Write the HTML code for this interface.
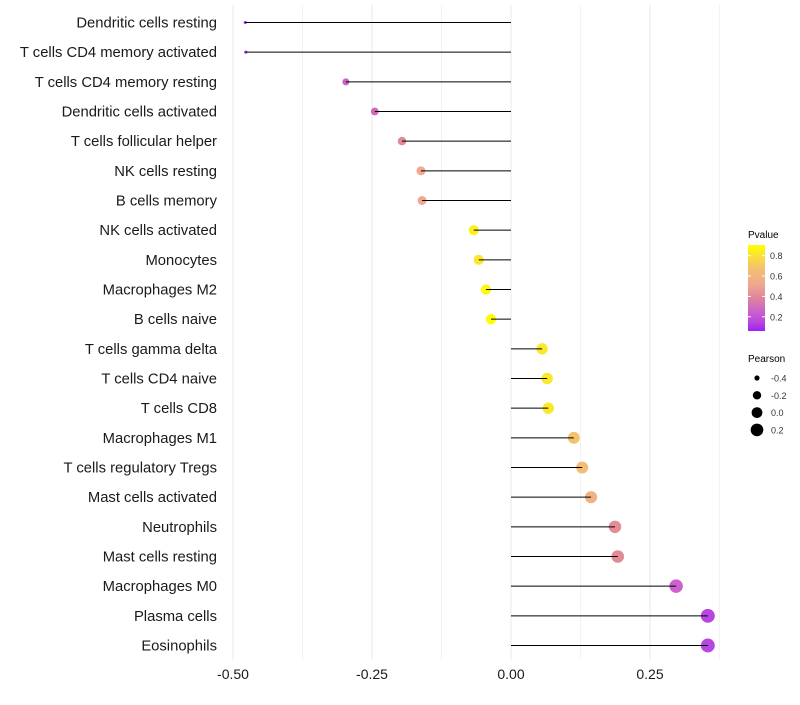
<!DOCTYPE html>
<html><head><meta charset="utf-8"><style>
body{margin:0;background:#fff;font-family:"Liberation Sans",sans-serif}
</style></head><body>
<svg id="chart" width="800" height="700" xmlns="http://www.w3.org/2000/svg" font-family="Liberation Sans, sans-serif">
<defs><linearGradient id="pg" x1="0" y1="1" x2="0" y2="0">
<stop offset="0" stop-color="#a020f0"/><stop offset="0.11" stop-color="#b848e0"/><stop offset="0.225" stop-color="#cc60cc"/><stop offset="0.4" stop-color="#e08898"/><stop offset="0.54" stop-color="#eea890"/><stop offset="0.73" stop-color="#f4c070"/><stop offset="1" stop-color="#ffff00"/></linearGradient></defs>
<g id="grid"></g>
<g id="points"></g>
<g id="marks"></g>
<g id="ylabels"></g>
<g id="xlabels"></g>
<g>
<text x="748" y="238" font-size="10" fill="#000">Pvalue</text>
<rect x="748" y="245" width="17" height="86" fill="url(#pg)"/>
<g id="cbticks"></g>
</g>
<g>
<text x="748" y="362" font-size="10" fill="#000">Pearson</text>
<g id="sizeleg"></g>
</g>
</svg>
<script>
const categories=["Dendritic cells resting","T cells CD4 memory activated","T cells CD4 memory resting","Dendritic cells activated","T cells follicular helper","NK cells resting","B cells memory","NK cells activated","Monocytes","Macrophages M2","B cells naive","T cells gamma delta","T cells CD4 naive","T cells CD8","Macrophages M1","T cells regulatory  Tregs ","Mast cells activated","Neutrophils","Mast cells resting","Macrophages M0","Plasma cells","Eosinophils"];
const pearson=[-0.478,-0.477,-0.297,-0.245,-0.196,-0.162,-0.160,-0.067,-0.058,-0.045,-0.036,0.056,0.065,0.067,0.113,0.128,0.144,0.187,0.192,0.297,0.354,0.354];
const pvalues=[0.06,0.06,0.25,0.28,0.4,0.52,0.52,0.85,0.82,0.88,0.9,0.82,0.82,0.82,0.68,0.66,0.58,0.42,0.41,0.25,0.15,0.15];
const xTicks=[-0.5,-0.25,0,0.25];
const xTickLabels=["-0.50","-0.25","0.00","0.25"];
const cbTicks=[0.2,0.4,0.6,0.8];
const sizeTicks=[-0.4,-0.2,0.0,0.2];
const sizeTickLabels=["-0.4","-0.2","0.0","0.2"];
const NS="http://www.w3.org/2000/svg";
const x=v=>511+v*556;
const y=i=>22.5+i*(623/21);
const pMin=0.06,pMax=0.905;
const cbY=p=>331-(p-pMin)/(pMax-pMin)*86;
const r=v=>Math.sqrt(Math.max(1,28.9+55.7*v));
const stops=[[0,[160,32,240]],[0.11,[184,72,224]],[0.225,[204,96,204]],[0.4,[224,136,152]],[0.54,[238,168,144]],[0.73,[244,192,112]],[1,[255,255,0]]];
function col(p){let t=Math.min(1,Math.max(0,(p-pMin)/(pMax-pMin)));for(let k=1;k<stops.length;k++){if(t<=stops[k][0]){const a=stops[k-1],b=stops[k],f=(t-a[0])/(b[0]-a[0]);return "rgb("+a[1].map((c,j)=>Math.round(c+(b[1][j]-c)*f)).join(",")+")";}}return "rgb(255,255,0)";}
function mk(t,at,parent){const e=document.createElementNS(NS,t);for(const k in at)e.setAttribute(k,at[k]);parent.appendChild(e);return e;}
const grid=document.getElementById('grid');
[-0.5,-0.375,-0.25,-0.125,0,0.125,0.25,0.375].forEach(v=>{
 const l=mk('line',{x1:x(v),x2:x(v),y1:5,y2:660,stroke:'#ebebeb','stroke-width':Number.isInteger(v*4)?1.1:0.6},grid);
 
 
});
const marks=document.getElementById('marks'),pts=document.getElementById('points'),yl=document.getElementById('ylabels');
categories.forEach((c,i)=>{
 const d=mk('circle',{cx:x(pearson[i]),cy:y(i),r:r(pearson[i]),fill:col(pvalues[i])},pts);
 
 
 const s=mk('line',{x1:x(0),x2:x(pearson[i]),y1:y(i),y2:y(i),stroke:'#000','stroke-width':1},marks);
 
 
 const t=mk('text',{x:217,y:y(i)+5,'text-anchor':'end','font-size':14.8,fill:'#1a1a1a'},yl);t.textContent=c;
 
 
});
const xl=document.getElementById('xlabels');
xTicks.forEach((v,i)=>{const t=mk('text',{x:x(v),y:679,'text-anchor':'middle','font-size':14,fill:'#1a1a1a'},xl);t.textContent=xTickLabels[i];
 
 });
const cb=document.getElementById('cbticks');
cbTicks.forEach(p=>{mk('line',{x1:748,x2:751,y1:cbY(p),y2:cbY(p),stroke:'#fff'},cb);mk('line',{x1:762,x2:765,y1:cbY(p),y2:cbY(p),stroke:'#fff'},cb);
 const t=mk('text',{x:770,y:cbY(p)+3.5,'font-size':9,fill:'#333'},cb);t.textContent=p.toFixed(1);
 
 });
const sl=document.getElementById('sizeleg');
sizeTicks.forEach((v,i)=>{const cy=378+i*17.3;const c=mk('circle',{cx:757,cy:cy,r:r(v),fill:'#000'},sl);
 
 
 const t=mk('text',{x:771,y:cy+3.5,'font-size':9,fill:'#333'},sl);t.textContent=sizeTickLabels[i];
 
 });
</script>
</body></html>
